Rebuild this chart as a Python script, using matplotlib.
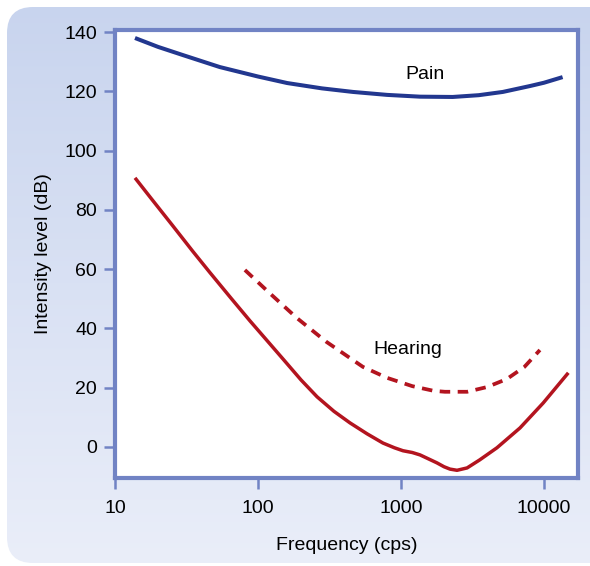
import numpy as np
import matplotlib
matplotlib.use("Agg")
import matplotlib.pyplot as plt
from matplotlib.patches import FancyBboxPatch

plt.rcParams['font.family'] = ['Liberation Sans', 'DejaVu Sans']

# values
pain_freq = [13.8, 20, 30, 54, 100, 160, 280, 461, 800, 1358, 2300, 3500, 5160, 8000, 10000, 13500]
pain_db = [138.0, 135.0, 132.2, 128.2, 125.0, 122.8, 121.0, 119.8, 118.8, 118.2, 118.1, 118.7, 119.8,
           121.8, 122.9, 124.8]

hear_freq = [13.8, 18, 25, 35, 46, 65, 88, 120, 150, 200, 259, 340, 440, 580, 748, 900, 1033, 1200,
             1358, 1550, 1786, 2000, 2203, 2466, 2900, 3550, 4690, 6800, 9870, 14800]
hear_db = [90.8, 83.7, 75.0, 66.0, 58.9, 50.1, 42.5, 35.0, 29.6, 22.6, 16.9, 12.0, 8.1, 4.4, 1.3,
           -0.3, -1.3, -1.9, -2.7, -4.0, -5.4, -6.7, -7.5, -7.9, -7.1, -4.4, -0.3, 6.4, 14.8, 25.0]

thr_freq = [81, 120, 187, 300, 542, 800, 1200, 1700, 2030, 2900, 4000, 5500, 7300, 9370]
thr_db = [59.7, 52.0, 43.5, 35.5, 27.0, 23.3, 20.5, 18.9, 18.6, 18.6, 20.2, 22.9, 27.0, 32.7]

xticks = [10, 100, 1000, 10000]
yticks = [0, 20, 40, 60, 80, 100, 120, 140]

frame_col = '#7183c4'
blue = '#22378f'
red = '#b3141f'

fig = plt.figure(figsize=(5.9, 5.66), dpi=100)

# gradient background panel with rounded corners
bg = fig.add_axes([0, 0, 1, 1], zorder=-5)
bg.set_axis_off()
bg.set_xlim(0, 590)
bg.set_ylim(566, 0)
grad = np.linspace(0, 1, 256).reshape(-1, 1)
top = np.array([0xc8, 0xd4, 0xee]) / 255
bot = np.array([0xea, 0xee, 0xf9]) / 255
img = top + (bot - top) * grad[..., None]
im = bg.imshow(img, extent=[0, 590, 566, 0], aspect='auto')
panel = FancyBboxPatch((7, 7), 610, 556, boxstyle='round,pad=0,rounding_size=26',
                       transform=bg.transData, facecolor='none', edgecolor='none')
bg.add_patch(panel)
im.set_clip_path(panel)

ax = fig.add_axes([115 / 590, 1 - 478 / 566, 463 / 590, 448 / 566])
ax.set_facecolor('white')
ax.set_xscale('log')
ax.set_xlim(10, 17300)
ax.set_ylim(-10.5, 140.7)

ax.plot(pain_freq, pain_db, color=blue, lw=2.9, solid_capstyle='butt', solid_joinstyle='round')
ax.plot(hear_freq, hear_db, color=red, lw=2.5, solid_capstyle='butt', solid_joinstyle='round')
ax.plot(thr_freq, thr_db, color=red, lw=2.7, ls=(0, (2.8, 2.0)))

ax.text(1470, 125.8, 'Pain', fontsize=14, ha='center', va='center')
ax.text(1120, 33, 'Hearing', fontsize=14, ha='center', va='center')

ax.set_xticks(xticks)
ax.set_xticklabels([str(t) for t in xticks])
ax.xaxis.set_minor_locator(matplotlib.ticker.NullLocator())
ax.set_yticks(yticks)
for s in ax.spines.values():
    s.set_color(frame_col)
    s.set_linewidth(3)
ax.tick_params(axis='both', colors=frame_col, labelcolor='black', length=8,
               width=1.8, labelsize=14, direction='out', pad=5)
ax.tick_params(axis='x', pad=8)

ax.set_xlabel('Frequency (cps)', fontsize=14, labelpad=14)
ax.set_ylabel('Intensity level (dB)', fontsize=14, labelpad=9)

fig.savefig('out.png', dpi=100)
